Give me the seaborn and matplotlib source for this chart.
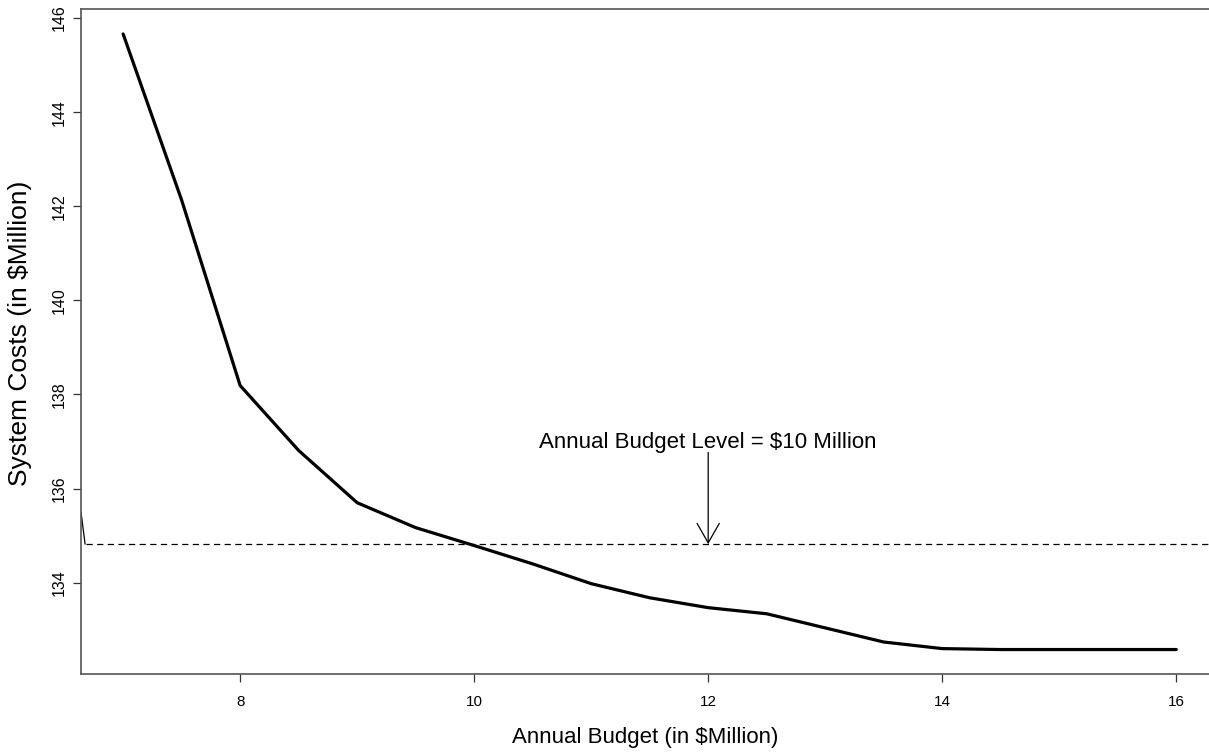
import matplotlib
matplotlib.use("Agg")
import matplotlib.pyplot as plt
import seaborn as sns
import pandas as pd

# Annual budget levels (in $Million) and resulting system costs (in $Million)
budget = [7.0, 7.5, 8.0, 8.5, 9.0, 9.5, 10.0, 10.5, 11.0, 11.5, 12.0,
          12.5, 13.0, 13.5, 14.0, 14.5, 15.0, 15.5, 16.0]
system_cost = [145.66, 142.13, 138.19, 136.81, 135.70, 135.17, 134.79,
               134.40, 133.98, 133.68, 133.47, 133.34, 133.04, 132.74,
               132.60, 132.58, 132.58, 132.58, 132.58]

reference_cost = 134.82
reference_budget = 12.0
reference_label = "Annual Budget Level = $10 Million"

x_ticks = [8, 10, 12, 14, 16]
y_ticks = [134, 136, 138, 140, 142, 144, 146]

sns.set_style("ticks")
plt.rcParams["font.family"] = ["Liberation Sans", "DejaVu Sans"]
plt.rcParams["text.color"] = "black"
plt.rcParams["axes.labelcolor"] = "black"
plt.rcParams["xtick.labelcolor"] = "black"
plt.rcParams["ytick.labelcolor"] = "black"

df = pd.DataFrame({"budget": budget, "cost": system_cost})

fig = plt.figure(figsize=(12.09, 7.52), dpi=100)
ax = fig.add_axes([0.067, 0.1037, 0.933, 0.8843])

sns.lineplot(data=df, x="budget", y="cost", color="black", linewidth=2.3, ax=ax)

ax.set_xlim(6.64, 16.28)
ax.set_ylim(132.06, 146.19)

# horizontal reference level
ax.axhline(reference_cost, xmin=0.004, color="black", linewidth=0.9,
           linestyle=(0, (5, 3.5)))
ax.plot([6.64, 6.675], [135.5, reference_cost], color="black", linewidth=0.9)

# arrow pointing to the reference level
ax.annotate("", xy=(reference_budget, reference_cost),
            xytext=(reference_budget, 136.77),
            arrowprops=dict(arrowstyle="->,head_length=1.4,head_width=0.8",
                            color="black", linewidth=0.9,
                            shrinkA=0, shrinkB=0))
ax.text(reference_budget, 136.97, reference_label, ha="center", va="center",
        fontsize=16)

ax.set_xticks(x_ticks)
ax.set_yticks(y_ticks)
ax.set_xticklabels([str(t) for t in x_ticks], fontsize=11)
ax.set_yticklabels([str(t) for t in y_ticks], fontsize=11.5, rotation=90,
                   va="center")
ax.tick_params(axis="both", direction="out", length=6, width=0.9,
               color="#333333")
ax.tick_params(axis="x", pad=9)
ax.tick_params(axis="y", pad=4)

ax.set_xlabel("Annual Budget (in $Million)", fontsize=16, labelpad=13)
ax.set_ylabel("System Costs (in $Million)", fontsize=19)
ax.yaxis.set_label_coords(-0.043, 0.513)

for side in ["left", "bottom", "top"]:
    ax.spines[side].set_visible(True)
    ax.spines[side].set_color("#555555")
    ax.spines[side].set_linewidth(1.2)
ax.spines["right"].set_visible(False)

fig.savefig("out.png", dpi=100)
